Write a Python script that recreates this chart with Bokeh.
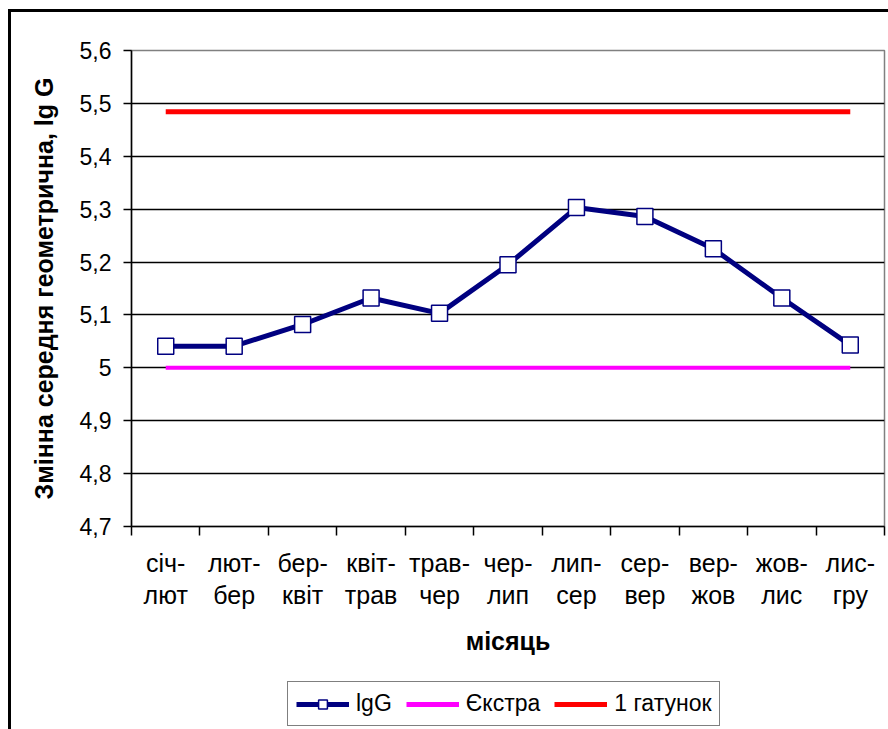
from bokeh.plotting import figure
from bokeh.layouts import column
from bokeh.models import Range1d, FixedTicker, Legend, LegendItem
from bokeh.embed import file_html
from bokeh.resources import INLINE

months = ["січ-\nлют", "лют-\nбер", "бер-\nквіт", "квіт-\nтрав", "трав-\nчер", "чер-\nлип",
          "лип-\nсер", "сер-\nвер", "вер-\nжов", "жов-\nлис", "лис-\nгру"]
igg = [5.041, 5.041, 5.082, 5.132, 5.103, 5.195, 5.303, 5.286, 5.225, 5.132, 5.043]
ekstra_level = 5.0
grade1_level = 5.484
y_ticks = [4.7, 4.8, 4.9, 5.0, 5.1, 5.2, 5.3, 5.4, 5.5, 5.6]
y_tick_labels = ["4,7", "4,8", "4,9", "5", "5,1", "5,2", "5,3", "5,4", "5,5", "5,6"]
series_names = ["lgG", "Єкстра", "1 гатунок"]

FONT = "Liberation Sans"
NAVY, MAGENTA, RED = "#000080", "#FF00FF", "#FF0000"
n = len(months)
xs = [i + 0.5 for i in range(n)]
bounds = [i for i in range(n + 1)]

p = figure(width=877, height=664, output_backend="svg", toolbar_location=None,
           x_range=Range1d(0, n), y_range=Range1d(y_ticks[0], y_ticks[-1]),
           min_border_left=120, min_border_right=4, min_border_top=38, min_border_bottom=150,
           x_axis_label="місяць", y_axis_label="Змінна середня геометрична, lg G")

p.background_fill_color = "white"
p.border_fill_color = "white"
p.outline_line_color = "#808080"
p.outline_line_width = 1.5

# x axis
p.xaxis.ticker = FixedTicker(ticks=xs, minor_ticks=bounds)
p.xaxis.major_label_overrides = {x: m for x, m in zip(xs, months)}
p.xaxis.major_tick_out = 0
p.xaxis.major_tick_in = 0
p.xaxis.minor_tick_out = 9
p.xaxis.minor_tick_in = 0
p.xaxis.minor_tick_line_color = "black"
p.xaxis.minor_tick_line_width = 1.5
p.xaxis.axis_line_color = "black"
p.xaxis.axis_line_width = 1.5
p.xaxis.major_label_text_font = FONT
p.xaxis.major_label_text_font_size = "25px"
p.xaxis.major_label_text_color = "black"
p.xaxis.major_label_text_line_height = 1.15
p.xaxis.major_label_standoff = 13
p.xaxis.axis_label_text_font = FONT
p.xaxis.axis_label_text_font_size = "25px"
p.xaxis.axis_label_text_font_style = "bold"
p.xaxis.axis_label_text_color = "black"
p.xaxis.axis_label_standoff = 15

# y axis
p.yaxis.ticker = FixedTicker(ticks=y_ticks)
p.yaxis.major_label_overrides = {t: l for t, l in zip(y_ticks, y_tick_labels)}
p.yaxis.major_tick_out = 8
p.yaxis.major_tick_in = 0
p.yaxis.major_tick_line_color = "black"
p.yaxis.major_tick_line_width = 1.5
p.yaxis.minor_tick_line_color = None
p.yaxis.axis_line_color = "black"
p.yaxis.axis_line_width = 1.5
p.yaxis.major_label_text_font = FONT
p.yaxis.major_label_text_font_size = "23px"
p.yaxis.major_label_text_color = "black"
p.yaxis.major_label_standoff = 12
p.yaxis.axis_label_text_font = FONT
p.yaxis.axis_label_text_font_size = "25px"
p.yaxis.axis_label_text_font_style = "bold"
p.yaxis.axis_label_text_color = "black"
p.yaxis.axis_label_standoff = 19

p.xgrid.visible = False
p.ygrid.ticker = FixedTicker(ticks=y_ticks[1:-1])
p.ygrid.grid_line_color = "black"
p.ygrid.grid_line_width = 1.3

p.line(xs, [grade1_level] * n, line_color=RED, line_width=5)
p.line(xs, [ekstra_level] * n, line_color=MAGENTA, line_width=4)
p.line(xs, igg, line_color=NAVY, line_width=5)
p.scatter(xs, igg, marker="square", size=16, fill_color="white",
          line_color=NAVY, line_width=1.5)

# legend strip below the chart (same series styles; its glyphs fall outside this strip's range)
lg = figure(width=877, height=53, output_backend="svg", toolbar_location=None,
            x_range=Range1d(0, n), y_range=Range1d(0, 1),
            x_axis_type=None, y_axis_type=None,
            min_border_left=0, min_border_right=0, min_border_top=0, min_border_bottom=0)
lg.outline_line_color = None
lg.background_fill_color = "white"
lg.border_fill_color = "white"
lg.xgrid.visible = False
lg.ygrid.visible = False
g_line = lg.line(xs, igg, line_color=NAVY, line_width=5)
g_mark = lg.scatter(xs, igg, marker="square", size=15, fill_color="white",
                    line_color=NAVY, line_width=1.5)
g_ek = lg.line(xs, [ekstra_level] * n, line_color=MAGENTA, line_width=5)
g_g1 = lg.line(xs, [grade1_level] * n, line_color=RED, line_width=5)

legend = Legend(items=[LegendItem(label=series_names[0], renderers=[g_line, g_mark]),
                       LegendItem(label=series_names[1], renderers=[g_ek]),
                       LegendItem(label=series_names[2], renderers=[g_g1])],
                orientation="horizontal", location=(156, 3),
                glyph_width=53, glyph_height=22, label_standoff=7, spacing=14,
                padding=8, margin=0, border_line_color="black", border_line_width=1.5,
                label_text_font=FONT, label_text_font_size="23px", label_text_color="black",
                background_fill_color="white", background_fill_alpha=1)
lg.add_layout(legend, "center")

layout = column(p, lg, spacing=0,
                styles={"margin-left": "8px", "margin-top": "9px",
                        "border-left": "3px solid black", "border-top": "3px solid black"})

open("out.html", "w").write(file_html(layout, INLINE))
